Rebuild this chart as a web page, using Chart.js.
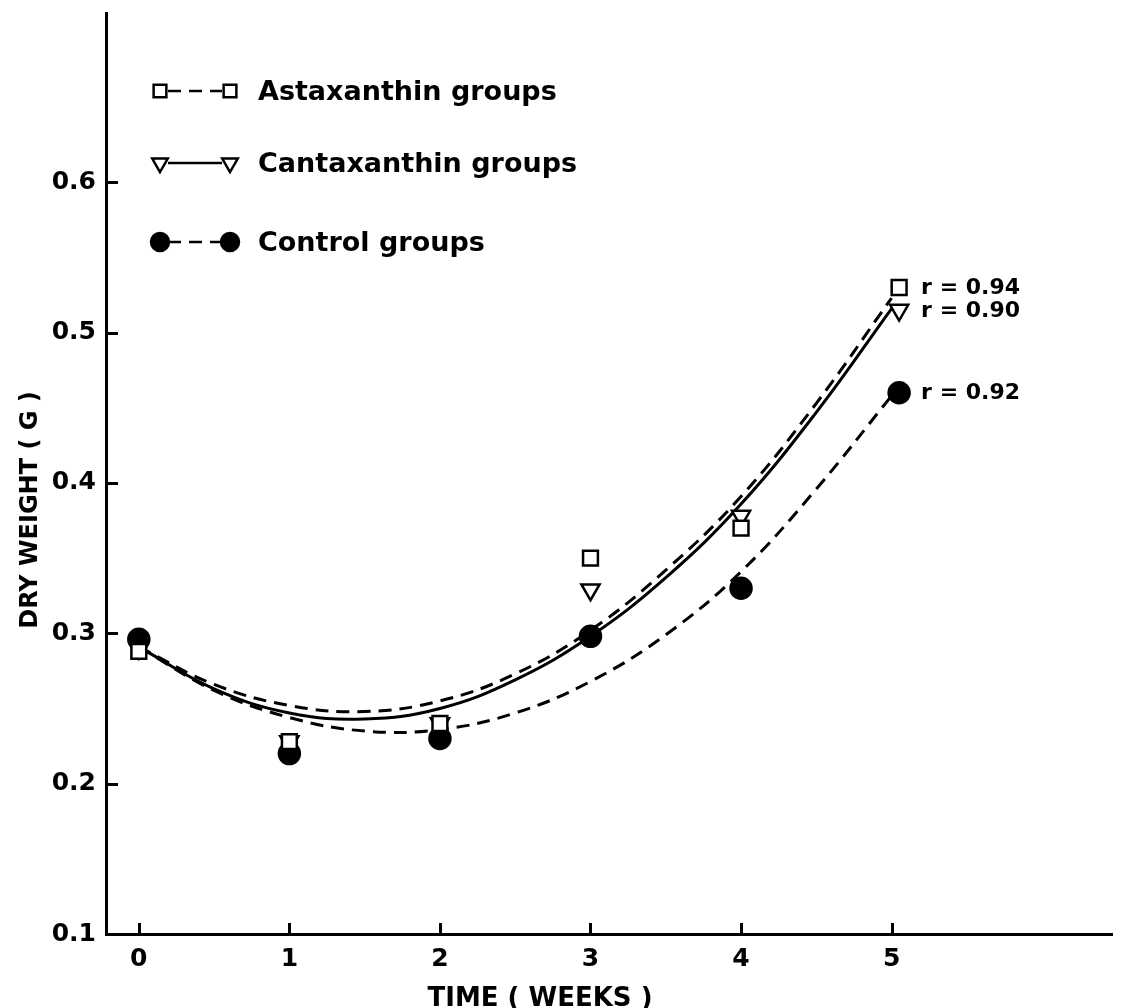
<!DOCTYPE html>
<html>
<head>
<meta charset="utf-8">
<script src="https://cdn.jsdelivr.net/npm/chart.js@4.4.0/dist/chart.umd.min.js"></script>
<style>
    html, body { margin: 0; padding: 0; background: #fff; }
    #wrap { width: 1125px; height: 1008px; }
</style>
</head>
<body>
<div id="wrap"><canvas id="chartPeso"></canvas></div>
<script>
// measured points (weeks, dry weight g)
const weeks = [0, 1, 2, 3, 4, 5.05];
const astaxanthin = [0.288, 0.228, 0.240, 0.350, 0.370, 0.530];
const cantaxanthin = [0.290, 0.228, 0.240, 0.329, 0.378, 0.515];
const control = [0.296, 0.220, 0.230, 0.298, 0.330, 0.460];

// fitted curves
const fitWeeks = [0, 0.5, 1, 1.5, 2, 2.5, 3, 3.5, 4, 4.5, 5];
const astaxanthinFit = [0.291, 0.266, 0.252, 0.248, 0.255, 0.273, 0.302, 0.342, 0.391, 0.453, 0.523];
const cantaxanthinFit = [0.291, 0.263, 0.247, 0.243, 0.250, 0.269, 0.298, 0.337, 0.386, 0.447, 0.516];
const controlFit = [0.291, 0.262, 0.244, 0.235, 0.236, 0.247, 0.268, 0.299, 0.341, 0.396, 0.458];

const groupNames = ["Astaxanthin groups", "Cantaxanthin groups", "Control groups"];
const rLabels = ["r = 0.94", "r = 0.90", "r = 0.92"];
const xTicks = [0, 1, 2, 3, 4, 5];
const yTicks = [0.1, 0.2, 0.3, 0.4, 0.5, 0.6];

const FONT = "'DejaVu Sans', sans-serif";
const toXY = (xs, ys) => xs.map((x, i) => ({ x: x, y: ys[i] }));

// marker styles: square, down triangle, filled circle
const markers = [
    { pointStyle: "rect", radius: 10.5, rotation: 0, fill: "#fff" },
    { pointStyle: "triangle", radius: 10.5, rotation: 180, fill: "#fff" },
    { pointStyle: "circle", radius: 10.5, rotation: 0, fill: "#000" }
];
const dashes = [[13, 8], [], [13, 8]];

// ticks, legend, r values and axis titles
const paperPlugin = {
    id: "paper",
    afterDraw(chart) {
        const ctx = chart.ctx;
        const sx = chart.scales.x;
        const sy = chart.scales.y;
        const area = chart.chartArea;
        ctx.save();
        ctx.strokeStyle = "#000";
        ctx.fillStyle = "#000";
        ctx.lineWidth = 3;
        ctx.setLineDash([]);

        // inward tick marks
        xTicks.forEach(v => {
            const px = Math.round(sx.getPixelForValue(v)) + 0.5;
            ctx.beginPath();
            ctx.moveTo(px, area.bottom);
            ctx.lineTo(px, area.bottom - 11);
            ctx.stroke();
        });
        yTicks.forEach(v => {
            const py = Math.round(sy.getPixelForValue(v)) + 0.5;
            ctx.beginPath();
            ctx.moveTo(area.left, py);
            ctx.lineTo(area.left + 12, py);
            ctx.stroke();
        });

        // legend
        const rows = [91, 163, 242];
        rows.forEach((ry, i) => {
            ctx.lineWidth = 2.5;
            ctx.setLineDash(dashes[i]);
            ctx.beginPath();
            ctx.moveTo(168, ry);
            ctx.lineTo(222, ry);
            ctx.stroke();
            ctx.setLineDash([]);
            [160, 230].forEach(mx => {
                ctx.fillStyle = markers[i].fill;
                Chart.helpers.drawPoint(ctx, {
                    pointStyle: markers[i].pointStyle,
                    radius: markers[i].radius - 1.5,
                    rotation: markers[i].rotation,
                    borderWidth: 2.5
                }, mx, ry);
            });
            ctx.fillStyle = "#000";
            ctx.font = "bold 27px " + FONT;
            ctx.textAlign = "left";
            ctx.textBaseline = "alphabetic";
            ctx.fillText(groupNames[i], 258, ry + 9);
        });

        // r values beside the last point of each group
        ctx.font = "bold 22px " + FONT;
        ctx.textBaseline = "middle";
        [0, 1, 2].forEach(i => {
            const pt = chart.getDatasetMeta(i).data[weeks.length - 1];
            ctx.fillText(rLabels[i], pt.x + 22, pt.y + 1);
        });

        // axis titles
        ctx.font = "bold 26px " + FONT;
        ctx.textAlign = "center";
        ctx.textBaseline = "alphabetic";
        ctx.fillText("TIME ( WEEKS )", 540, 1006);
        ctx.font = "bold 24px " + FONT;
        ctx.translate(31, 510);
        ctx.rotate(-Math.PI / 2);
        ctx.textBaseline = "middle";
        ctx.fillText("DRY WEIGHT ( G )", 0, 0);
        ctx.restore();
    }
};

const pointSets = [astaxanthin, cantaxanthin, control].map((ys, i) => ({
    label: groupNames[i],
    data: toXY(weeks, ys),
    showLine: false,
    pointStyle: markers[i].pointStyle,
    pointRadius: markers[i].radius,
    pointRotation: markers[i].rotation,
    pointBackgroundColor: markers[i].fill,
    pointBorderColor: "#000",
    pointBorderWidth: 2.5
}));

const fitSets = [astaxanthinFit, cantaxanthinFit, controlFit].map((ys, i) => ({
    label: groupNames[i] + " fit",
    data: toXY(fitWeeks, ys),
    showLine: true,
    pointRadius: 0,
    borderColor: "#000",
    borderWidth: 3,
    borderDash: dashes[i],
    tension: 0.4,
    fill: false
}));

const noPad = s => {
    s.paddingTop = 0;
    s.paddingBottom = 0;
    s.paddingLeft = 0;
    s.paddingRight = 0;
};

new Chart(document.getElementById("chartPeso"), {
    type: "scatter",
    data: { datasets: pointSets.concat(fitSets) },
    options: {
        responsive: true,
        maintainAspectRatio: false,
        animation: false,
        layout: { padding: { top: 12, right: 7, left: 0, bottom: 0 } },
        plugins: {
            legend: { display: false },
            tooltip: { enabled: false }
        },
        scales: {
            x: {
                type: "linear",
                min: -0.218,
                max: 6.464,
                afterFit: s => { s.height = 74; noPad(s); },
                afterBuildTicks: s => { s.ticks = xTicks.map(v => ({ value: v })); },
                grid: { display: false, drawTicks: false },
                border: { display: true, color: "#000", width: 3 },
                ticks: {
                    color: "#000",
                    padding: 10,
                    font: { family: FONT, size: 25, weight: "bold" },
                    callback: v => String(v)
                }
            },
            y: {
                type: "linear",
                min: 0.1,
                max: 0.7126,
                afterFit: s => { s.width = 106; noPad(s); },
                afterBuildTicks: s => { s.ticks = yTicks.map(v => ({ value: v })); },
                grid: { display: false, drawTicks: false },
                border: { display: true, color: "#000", width: 3 },
                ticks: {
                    color: "#000",
                    padding: 10,
                    font: { family: FONT, size: 25, weight: "bold" },
                    callback: v => v.toFixed(1)
                }
            }
        }
    },
    plugins: [paperPlugin]
});
</script>
</body>
</html>
